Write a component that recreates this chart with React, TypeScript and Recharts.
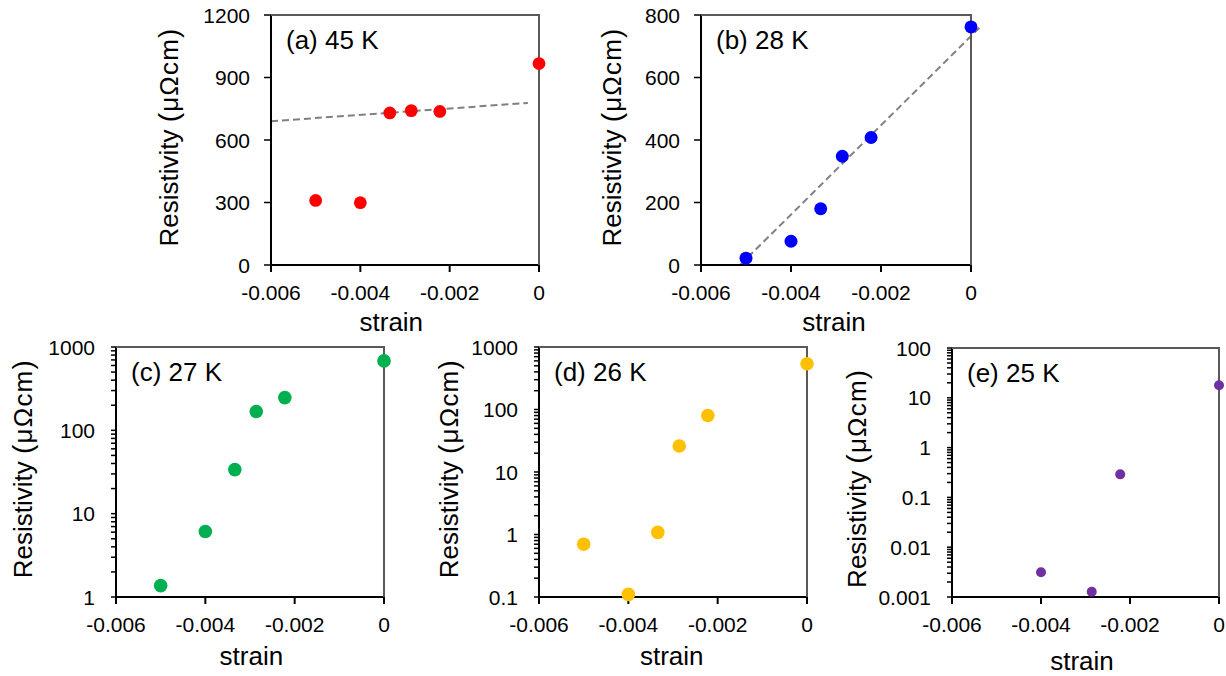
import React from 'react';
import {
  ScatterChart,
  Scatter,
  XAxis,
  YAxis,
  ReferenceLine,
} from 'recharts';

// ---- data: resistivity vs strain at several temperatures ----
const strain = [-0.005, -0.004, -0.00334, -0.00286, -0.00222, 0];
const rho45K = [310, 299, 730, 741, 737, 967];
const rho28K = [22, 76, 180, 348, 408, 762];
const rho27K = [1.37, 6.1, 33.8, 168, 247, 681];
const rho26K = [0.7, 0.11, 1.08, 26, 80, 540];
const strain25K = [-0.004, -0.00286, -0.00222, 0];
const rho25K = [0.00314, 0.00128, 0.29, 17.9];

// ---- axis ticks ----
const strainDomain: [number, number] = [-0.006, 0];
const strainTicks = [-0.006, -0.004, -0.002, 0];
const ticks45K = [0, 300, 600, 900, 1200];
const ticks28K = [0, 200, 400, 600, 800];
const decades27K = [1, 10, 100, 1000];
const decades26K = [0.1, 1, 10, 100, 1000];
const decades25K = [0.001, 0.01, 0.1, 1, 10, 100];

// ---- linear trend lines (end points) ----
const fit45K = [
  { x: -0.006, y: 690 },
  { x: -0.00025, y: 778 },
];
const fit28K = [
  { x: -0.00513, y: 0 },
  { x: 0.00022, y: 764 },
];

const FONT = '"Liberation Sans", Arial, Helvetica, sans-serif';
const TICK_FS = 21;
const LABEL_FS = 26;
const AXIS_COLOR = '#000';
const FRAME_COLOR = '#595959';
const TW = 2; // axis / frame thickness

const zip = (xs: number[], ys: number[]) => xs.map((x, i) => ({ x, y: ys[i] }));

// minor ticks 2..9 within every decade
const withMinors = (decades: number[]) => {
  const out: number[] = [];
  decades.forEach((d, i) => {
    out.push(d);
    if (i < decades.length - 1) {
      for (let k = 2; k <= 9; k++) out.push(+(k * d).toPrecision(3));
    }
  });
  return out;
};

const fmt = (v: number) => String(v);

type Rect = { left: number; top: number; right: number; bottom: number };

type PanelProps = {
  plot: Rect;
  points: { x: number; y: number }[];
  color: string;
  radius: number;
  log: boolean;
  yDomain: [number, number];
  yTicks: number[];
  yMajors: number[];
  title: string;
  fit?: { x: number; y: number }[];
  xLabelDx: number;
  xLabelDy: number;
  yLabelDx: number;
  yLabelDy: number;
};

// y tick label: only decades / major values get text
const YTickText = (props: any) => {
  const { x, y, payload, majors } = props;
  if (!majors.includes(payload.value)) return <g />;
  return (
    <text
      x={Number(x)}
      y={Number(y)}
      dy="0.36em"
      textAnchor="end"
      fontSize={TICK_FS}
      fontFamily={FONT}
      fill="#000"
    >
      {fmt(payload.value)}
    </text>
  );
};

const XTickText = (props: any) => {
  const { x, y, payload } = props;
  return (
    <text
      x={Number(x)}
      y={Number(y)}
      dy="0.36em"
      textAnchor="middle"
      fontSize={TICK_FS}
      fontFamily={FONT}
      fill="#000"
    >
      {fmt(payload.value)}
    </text>
  );
};

const NoMarker = () => <g />;

const Panel = (p: PanelProps) => {
  const boxLeft = Math.max(0, p.plot.left - 125);
  const boxTop = Math.max(0, p.plot.top - 15);
  const boxRight = Math.min(1226, p.plot.right + 25);
  const boxBottom = Math.min(676, p.plot.bottom + 78);
  const width = boxRight - boxLeft;
  const height = boxBottom - boxTop;
  const plotH = p.plot.bottom - p.plot.top;
  const [y0, y1] = p.yDomain;
  const [xMin, xMax] = strainDomain;
  // top and right edges of the plot frame
  const frame = [
    { x: xMin, y: y1 },
    { x: xMax, y: y1 },
    { x: xMax, y: y0 },
  ];

  return (
    <div style={{ position: 'absolute', left: boxLeft, top: boxTop, width, height }}>
      <ScatterChart
        width={width}
        height={height}
        margin={{ top: p.plot.top - boxTop, right: boxRight - p.plot.right, bottom: 0, left: 0 }}
      >
        <XAxis
          type="number"
          dataKey="x"
          domain={strainDomain}
          ticks={strainTicks}
          interval={0}
          height={boxBottom - p.plot.bottom}
          tickSize={7}
          tickMargin={20}
          tickLine={{ stroke: AXIS_COLOR, strokeWidth: TW }}
          axisLine={{ stroke: AXIS_COLOR, strokeWidth: TW }}
          tick={(t: any) => <XTickText {...t} />}
          label={{
            content: ({ viewBox }: any) => {
              const left = viewBox.x;
              const right = viewBox.x + viewBox.width;
              const bottom = viewBox.y;
              const top = bottom - plotH;
              return (
                <g>
                  <text
                    x={left + 15}
                    y={top + 24.5}
                    dy="0.36em"
                    fontSize={LABEL_FS}
                    fontFamily={FONT}
                    fill="#000"
                  >
                    {p.title}
                  </text>
                  <text
                    x={(left + right) / 2 + p.xLabelDx}
                    y={bottom + p.xLabelDy}
                    dy="0.36em"
                    textAnchor="middle"
                    fontSize={LABEL_FS}
                    fontFamily={FONT}
                    fill="#000"
                  >
                    strain
                  </text>
                </g>
              );
            },
          }}
        />
        <YAxis
          type="number"
          dataKey="y"
          scale={p.log ? 'log' : 'linear'}
          domain={p.yDomain}
          ticks={p.yTicks}
          interval={0}
          width={p.plot.left - boxLeft}
          tickSize={p.log ? 5 : 7}
          tickMargin={p.log ? 16 : 14}
          tickLine={{ stroke: AXIS_COLOR, strokeWidth: 1.5 }}
          axisLine={{ stroke: AXIS_COLOR, strokeWidth: TW }}
          tick={(t: any) => <YTickText {...t} majors={p.yMajors} />}
          label={{
            content: ({ viewBox }: any) => {
              const tx = viewBox.x + viewBox.width - p.yLabelDx;
              const ty = viewBox.y + viewBox.height / 2 + p.yLabelDy;
              return (
                <text
                  x={tx}
                  y={ty}
                  dy="0.36em"
                  textAnchor="middle"
                  fontSize={LABEL_FS}
                  fontFamily={FONT}
                  fill="#000"
                  transform={`rotate(-90, ${tx}, ${ty})`}
                >
                  Resistivity{' '}
                  <tspan letterSpacing={1.2}>
                    <tspan fontSize={28}>(</tspan>
                    {'\u03bc\u03a9cm'}
                    <tspan fontSize={28}>)</tspan>
                  </tspan>
                </text>
              );
            },
          }}
        />
        {/* right edge of the frame */}
        <ReferenceLine
          segment={[
            { x: xMax, y: y0 },
            { x: xMax, y: y1 },
          ]}
          stroke={FRAME_COLOR}
          strokeWidth={TW}
          ifOverflow="visible"
        />
        {/* top + right edges of the frame as one polyline */}
        <Scatter
          data={frame}
          isAnimationActive={false}
          line={{ stroke: FRAME_COLOR, strokeWidth: TW }}
          lineType="joint"
          shape={NoMarker}
          legendType="none"
        />
        {p.fit && (
          <ReferenceLine
            segment={p.fit}
            stroke="#808080"
            strokeWidth={2}
            strokeDasharray="7 4"
            ifOverflow="visible"
          />
        )}
        <Scatter
          data={p.points}
          isAnimationActive={false}
          shape={(s: any) => <circle cx={s.cx} cy={s.cy} r={p.radius} fill={p.color} />}
        />
      </ScatterChart>
      {/* top border of the plot box */}
      <div
        style={{
          position: 'absolute',
          left: p.plot.left - boxLeft,
          top: p.plot.top - boxTop - TW / 2,
          width: p.plot.right - p.plot.left,
          height: 0,
          borderTop: `${TW}px solid ${FRAME_COLOR}`,
          pointerEvents: 'none',
        }}
      />
    </div>
  );
};

export default function App() {
  return (
    <div
      style={{
        position: 'absolute',
        left: 0,
        top: 0,
        width: 1226,
        height: 676,
        background: '#fff',
        overflow: 'hidden',
        fontFamily: FONT,
      }}
    >
      <Panel
        plot={{ left: 271, top: 15, right: 539, bottom: 265 }}
        points={zip(strain, rho45K)}
        color="#ff0000"
        radius={6.4}
        log={false}
        yDomain={[0, 1200]}
        yTicks={ticks45K}
        yMajors={ticks45K}
        title="(a) 45 K"
        fit={fit45K}
        xLabelDx={-13.7}
        xLabelDy={56.7}
        yLabelDx={102}
        yLabelDy={-3}
      />
      <Panel
        plot={{ left: 701, top: 15, right: 971, bottom: 265 }}
        points={zip(strain, rho28K)}
        color="#0000ff"
        radius={6.5}
        log={false}
        yDomain={[0, 800]}
        yTicks={ticks28K}
        yMajors={ticks28K}
        title="(b) 28 K"
        fit={fit28K}
        xLabelDx={-2}
        xLabelDy={56.7}
        yLabelDx={89}
        yLabelDy={-3}
      />
      <Panel
        plot={{ left: 116, top: 347, right: 384, bottom: 597 }}
        points={zip(strain, rho27K)}
        color="#00b050"
        radius={6.8}
        log={true}
        yDomain={[1, 1000]}
        yTicks={withMinors(decades27K)}
        yMajors={decades27K}
        title="(c) 27 K"
        xLabelDx={1.4}
        xLabelDy={58.3}
        yLabelDx={93.6}
        yLabelDy={-3.4}
      />
      <Panel
        plot={{ left: 539, top: 347, right: 807, bottom: 597 }}
        points={zip(strain, rho26K)}
        color="#ffc000"
        radius={6.8}
        log={true}
        yDomain={[0.1, 1000]}
        yTicks={withMinors(decades26K)}
        yMajors={decades26K}
        title="(d) 26 K"
        xLabelDx={-1.3}
        xLabelDy={58.3}
        yLabelDx={90.7}
        yLabelDy={-3.4}
      />
      <Panel
        plot={{ left: 952, top: 348, right: 1219, bottom: 597 }}
        points={zip(strain25K, rho25K)}
        color="#7030a0"
        radius={5}
        log={true}
        yDomain={[0.001, 100]}
        yTicks={withMinors(decades25K)}
        yMajors={decades25K}
        title="(e) 25 K"
        xLabelDx={-3.5}
        xLabelDy={64}
        yLabelDx={95.6}
        yLabelDy={5.8}
      />
    </div>
  );
}
